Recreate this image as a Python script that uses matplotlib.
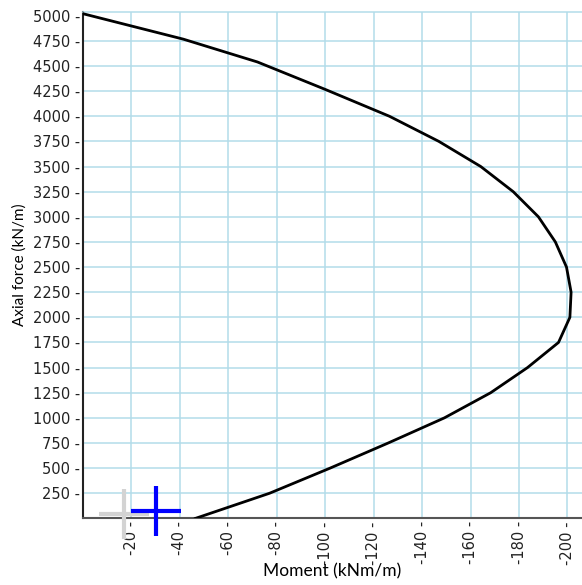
import numpy as np
import matplotlib
matplotlib.use("Agg")
import matplotlib.pyplot as plt

# interaction curve (moment vs axial force)
moment = [0, -41.4, -72, -100, -126.5, -146.9, -164.2, -177.6, -188, -195,
          -199.6, -201.5, -201, -196.3, -183.5, -168.3, -149.2, -126, -102, -77, -46.4]
axial = [5020, 4767, 4540, 4267, 4000, 3750, 3500, 3250, 3000, 2750,
         2500, 2250, 2000, 1750, 1500, 1250, 1000, 750, 500, 250, 0]

# design points
gray_pt = (-16.8, 41)
blue_pt = (-30.3, 77)

x_ticks = list(range(-20, -201, -20))
y_ticks = list(range(250, 5001, 250))

fig = plt.figure(figsize=(5.82, 5.85), dpi=100)
ax = fig.add_axes([83 / 582, (585 - 518.4) / 585, 1 - 83 / 582, (518.4 - 11.7) / 585])

ax.plot(moment, axial, color="black", lw=2, zorder=3)

ax.plot(*gray_pt, marker="+", ms=36, mew=3, color="#d3d3d3", clip_on=False, zorder=4)
ax.plot(*blue_pt, marker="+", ms=36, mew=3, color="#0000ff", clip_on=False, zorder=5)

ax.set_xlim(0, -206)
ax.set_ylim(0, 5040)

ax.set_xticks(x_ticks)
ax.set_xticklabels([f"{v} -" for v in x_ticks], rotation=90, fontsize=10.5, color="#222")
ax.set_yticks(y_ticks)
ax.set_yticklabels([f"{v} -" for v in y_ticks], fontsize=10.5, color="#222")
ax.tick_params(length=0, pad=2)

ax.grid(True, color="#b3dce9", lw=1.1)
ax.set_axisbelow(True)
# no gridline at 5000
ax.get_ygridlines()[-1].set_visible(False)

ax.spines["top"].set_color("#b3dce9")
ax.spines["top"].set_linewidth(1.1)
ax.spines["right"].set_visible(False)
ax.spines["left"].set_color("#222")
ax.spines["left"].set_linewidth(1.5)
ax.spines["bottom"].set_color("#555")
ax.spines["bottom"].set_linewidth(1.5)

ax.set_xlabel("Moment (kNm/m)", fontsize=12.5, family="Lato", labelpad=-1)
ax.set_ylabel("Axial force (kN/m)", fontsize=11, family="Lato", labelpad=4)

fig.savefig("out.png", dpi=100)
